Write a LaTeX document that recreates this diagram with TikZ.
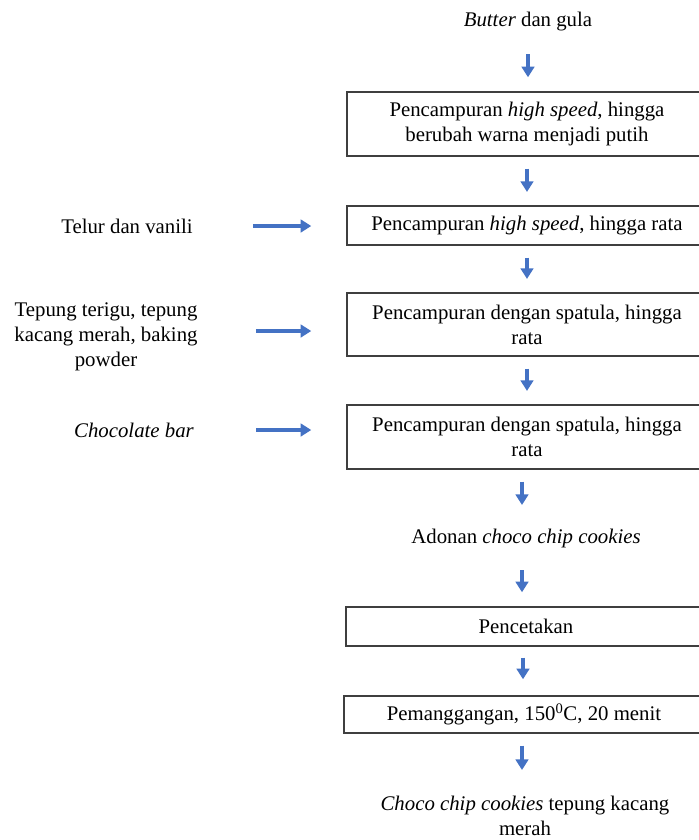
\documentclass[tikz,border=0pt]{standalone}
\usepackage{fontspec}
\setmainfont{Liberation Serif}
\usepackage{tikz}
\usetikzlibrary{
  arrows.meta,%
  calc,%
  positioning
}
\definecolor{alurbiru}{HTML}{4472C4}
\definecolor{garis}{HTML}{3F3F3F}
\tikzset{font=\fontsize{15.6pt}{18.75pt}\selectfont}
\tikzset{teks/.style={inner sep=0pt, align=center}}
\tikzset{proses/.style={draw=garis, line width=1.1pt, inner sep=0pt, align=center,
  minimum width=270pt}}
\tikzset{alur/.style={alurbiru, line width=2.6pt,
  -{Triangle[width=9.5pt, length=8pt]}, shorten <=9pt, shorten >=10pt}}

\begin{document}
\begin{tikzpicture}[x=0.75pt, y=-0.75pt]
        \useasboundingbox (0,0) rectangle (699,840);
        \clip (0,0) rectangle (699,840);
        % kolom utama
        \node[teks] (butter) at (528,22) {\textit{Butter} dan gula};
        \node[proses, minimum height=48pt] (campur1) at (527,124)
          {Pencampuran \textit{high speed}, hingga\\berubah warna menjadi putih};
        \node[proses, minimum height=29.25pt] (campur2) at (527,225.5)
          {Pencampuran \textit{high speed}, hingga rata};
        \node[proses, minimum height=47.25pt] (campur3) at (527,324.5)
          {Pencampuran dengan spatula, hingga\\rata};
        \node[proses, minimum height=48pt] (campur4) at (527,437)
          {Pencampuran dengan spatula, hingga\\rata};
        \node[teks] (adonan) at (526,538) {Adonan \textit{choco chip cookies}};
        \node[proses, minimum height=29.25pt] (cetak) at (526,626.5) {Pencetakan};
        \node[proses, minimum height=27.75pt] (panggang) at (524,714.5)
          {Pemanggangan, 150\textsuperscript{0}C, 20 menit};
        \node[teks] (hasil) at (525,816)
          {\textit{Choco chip cookies} tepung kacang\\merah};
        % bahan tambahan
        \node[teks] (telur) at (127,226) {Telur dan vanili};
        \node[teks] (tepung) at (106,337)
          {Tepung terigu, tepung\\kacang merah, baking\\powder};
        \node[teks] (coklat) at (134,430) {\textit{Chocolate bar}};

        \draw[alur, shorten <=24pt, shorten >=10.5pt] (butter.center) -- (butter.center |- campur1.north);
        \draw[alur] (campur1.south) -- (campur1.south |- campur2.north);
        \draw[alur] (campur2.south) -- (campur2.south |- campur3.north);
        \draw[alur] (campur3.south) -- (campur3.south |- campur4.north);
        \draw[alur, shorten >=24.75pt] ([xshift=-3.75pt]campur4.south) -- ([xshift=-3.75pt]campur4.south |- adonan.center);
        \draw[alur, shorten <=24pt, shorten >=10.5pt] ([xshift=-3pt]adonan.center) -- ([xshift=-3pt]adonan.center |- cetak.north);
        \draw[alur, shorten <=8.25pt, shorten >=12pt] ([xshift=-2.25pt]cetak.south) -- ([xshift=-2.25pt]cetak.south |- panggang.north);
        \draw[alur, shorten >=34.5pt] ([xshift=-1.5pt]panggang.south) -- ([xshift=-1.5pt]panggang.south |- hasil.center);

        \draw[alur, shorten <=45pt, shorten >=26.25pt] (telur.east) -- (telur.east -| campur2.west);
        \draw[alur, shorten <=43.5pt, shorten >=26.25pt] ([yshift=4.5pt]tepung.east) -- ([yshift=4.5pt]tepung.east -| campur3.west);
        \draw[alur, shorten <=46.5pt, shorten >=26.25pt] (coklat.east) -- (coklat.east -| campur4.west);
      \end{tikzpicture}
\end{document}
